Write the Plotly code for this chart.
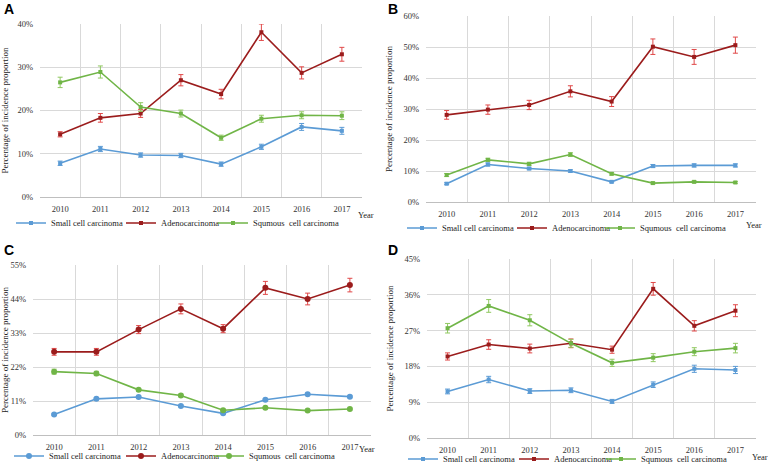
import plotly.graph_objects as go

years = ["2010", "2011", "2012", "2013", "2014", "2015", "2016", "2017"]
series_names = ["Small cell carcinoma", "Adenocarcinoma", "Squmous  cell carcinoma"]

# Panel A
a_small = [7.8, 11.1, 9.7, 9.6, 7.6, 11.6, 16.2, 15.3]
a_small_err = [0.5, 0.6, 0.5, 0.5, 0.5, 0.6, 0.8, 0.8]
a_adeno = [14.5, 18.3, 19.3, 27.0, 23.8, 38.1, 28.7, 33.0]
a_adeno_err = [0.6, 1.0, 0.9, 1.3, 1.1, 1.9, 1.4, 1.6]
a_squam = [26.5, 28.9, 20.8, 19.3, 13.7, 18.1, 18.9, 18.8]
a_squam_err = [1.2, 1.4, 1.0, 0.8, 0.6, 0.8, 0.8, 0.9]

# Panel B
b_small = [5.9, 12.1, 10.8, 10.0, 6.5, 11.6, 11.8, 11.8]
b_small_err = [0.3, 0.5, 0.4, 0.4, 0.3, 0.5, 0.5, 0.5]
b_adeno = [28.1, 29.8, 31.3, 35.7, 32.4, 50.1, 46.8, 50.6]
b_adeno_err = [1.4, 1.5, 1.5, 1.8, 1.6, 2.5, 2.4, 2.6]
b_squam = [8.7, 13.6, 12.3, 15.3, 9.1, 6.1, 6.5, 6.3]
b_squam_err = [0.5, 0.5, 0.5, 0.6, 0.4, 0.3, 0.3, 0.3]

# Panel C
c_small = [6.6, 11.7, 12.3, 9.4, 7.0, 11.4, 13.2, 12.4]
c_small_err = [0.3, 0.3, 0.3, 0.3, 0.3, 0.3, 0.3, 0.3]
c_adeno = [26.9, 26.9, 34.1, 40.8, 34.4, 47.6, 44.0, 48.5]
c_adeno_err = [1.1, 1.1, 1.3, 1.6, 1.3, 2.1, 1.9, 2.2]
c_squam = [20.5, 19.9, 14.6, 12.8, 8.0, 8.8, 7.9, 8.4]
c_squam_err = [0.8, 0.7, 0.4, 0.4, 0.3, 0.3, 0.3, 0.3]

# Panel D
d_small = [11.7, 14.7, 11.8, 12.0, 9.2, 13.4, 17.4, 17.1]
d_small_err = [0.6, 0.8, 0.6, 0.6, 0.5, 0.7, 0.9, 0.9]
d_adeno = [20.5, 23.5, 22.5, 23.8, 22.2, 37.5, 28.2, 32.0]
d_adeno_err = [0.9, 1.2, 1.1, 1.1, 0.9, 1.6, 1.3, 1.5]
d_squam = [27.6, 33.2, 29.6, 23.8, 18.9, 20.2, 21.7, 22.6]
d_squam_err = [1.2, 1.6, 1.4, 1.0, 0.9, 1.0, 1.0, 1.2]

y_ranges = {"A": (40, 10), "B": (60, 10), "C": (55, 11), "D": (45, 9)}

W, H = 768, 464
line_colors = ["#5B9BD5", "#9B1C1C", "#70B547"]
err_colors = ["#5B9BD5", "#E04848", "#90C860"]
serif = "Liberation Serif"

panels = [
    # key, data, x px range, y px range (top,bottom), legend text x's, legend y, year label pos, marker
    ("A", [(a_small, a_small_err), (a_adeno, a_adeno_err), (a_squam, a_squam_err)],
     (40, 362), (24, 197), (53, 163, 255), 223, (366, 215), "square", 4, (2, 9)),
    ("B", [(b_small, b_small_err), (b_adeno, b_adeno_err), (b_squam, b_squam_err)],
     (426, 756), (16, 202), (444, 554, 642), 228, (754, 225), "square", 4, (386, 9)),
    ("C", [(c_small, c_small_err), (c_adeno, c_adeno_err), (c_squam, c_squam_err)],
     (33, 371), (265, 435), (51, 163, 251), 456, (367, 449), "circle", 6, (2, 250)),
    ("D", [(d_small, d_small_err), (d_adeno, d_adeno_err), (d_squam, d_squam_err)],
     (427, 756), (259, 438), (445, 556, 643), 459, (760, 457), "square", 4, (386, 250)),
]

fig = go.Figure()
layout = dict(
    width=W, height=H, margin=dict(l=0, r=0, t=0, b=0, autoexpand=False),
    paper_bgcolor="white", plot_bgcolor="white", showlegend=True,
    annotations=[],
)

for i, (key, data, xr, yr, lgx, lgy, yearpos, msym, msize, letterpos) in enumerate(panels):
    n = i + 1
    xa = "x" if n == 1 else f"x{n}"
    ya = "y" if n == 1 else f"y{n}"
    for j, (vals, errs) in enumerate(data):
        k = i * 3 + j + 1
        lname = "legend" if k == 1 else f"legend{k}"
        fig.add_trace(go.Scatter(
            x=years, y=vals, name=series_names[j], mode="lines+markers",
            xaxis=xa, yaxis=ya, legend=lname,
            line=dict(color=line_colors[j], width=1.6),
            marker=dict(symbol=msym, size=msize, color=line_colors[j]),
            error_y=dict(type="data", array=errs, visible=True,
                         color=err_colors[j], thickness=1, width=2.5),
            cliponaxis=False,
        ))
        layout[lname] = dict(
            orientation="h", x=(lgx[j] - 42) / W, y=1 - lgy / H,
            xanchor="left", yanchor="middle",
            font=dict(family=serif, size=8.5, color="#222"),
            bgcolor="rgba(0,0,0,0)", itemwidth=30,
        )
    ymax, dt = y_ranges[key]
    xkey = "xaxis" if n == 1 else f"xaxis{n}"
    ykey = "yaxis" if n == 1 else f"yaxis{n}"
    layout[xkey] = dict(
        domain=[xr[0] / W, xr[1] / W], anchor=ya, type="category",
        categoryorder="array", categoryarray=years,
        tickson="boundaries", showgrid=True, gridcolor="#d9d9d9", gridwidth=1,
        showline=True, linecolor="#bfbfbf", linewidth=1, ticks="",
        ticklabelstandoff=4,
        tickfont=dict(family=serif, size=8.5, color="#333"),
        range=[-0.5, 7.5], zeroline=False, fixedrange=True,
    )
    layout[ykey] = dict(
        domain=[1 - yr[1] / H, 1 - yr[0] / H], anchor=xa,
        range=[0, ymax], dtick=dt, tick0=0, ticksuffix="%",
        showgrid=True, gridcolor="#d9d9d9", gridwidth=1, showline=False,
        zeroline=False, tickfont=dict(family=serif, size=8.5, color="#333"),
        ticklabelstandoff=6,
        title=dict(text="Percentage of incidence proportion",
                   font=dict(family=serif, size=9, color="#222"), standoff=9),
        fixedrange=True,
    )
    layout["annotations"].append(dict(
        text="Year", x=yearpos[0] / W, y=1 - yearpos[1] / H, xref="paper", yref="paper",
        showarrow=False, font=dict(family=serif, size=8.5, color="#222"),
        xanchor="center", yanchor="middle"))
    layout["annotations"].append(dict(
        text=f"<b>{key}</b>", x=letterpos[0] / W, y=1 - letterpos[1] / H,
        xref="paper", yref="paper", showarrow=False,
        font=dict(family="Liberation Sans", size=14, color="#000"),
        xanchor="left", yanchor="middle"))

fig.update_layout(**layout)
fig.write_html("out.html", config={"displayModeBar": False},
               post_script="document.body.style.margin='0';document.body.style.overflow='hidden';")
